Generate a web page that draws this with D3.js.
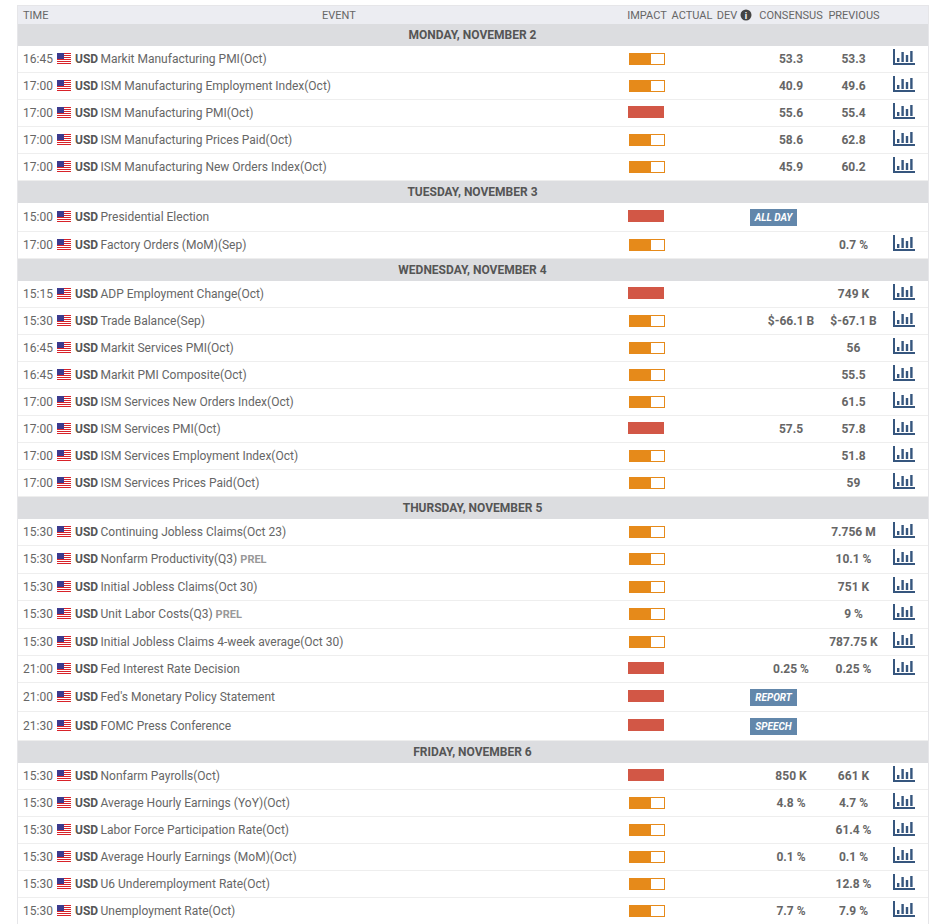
<!DOCTYPE html>
<html>
<head>
<meta charset="utf-8">
<script src="https://cdn.jsdelivr.net/npm/d3@7"></script>
<style>
html, body { margin: 0; padding: 0; background: #fff; overflow: hidden; }
svg { display: block; font-family: Roboto, sans-serif; }
</style>
</head>
<body>
<script>
const days = ["MONDAY, NOVEMBER 2", "TUESDAY, NOVEMBER 3", "WEDNESDAY, NOVEMBER 4", "THURSDAY, NOVEMBER 5", "FRIDAY, NOVEMBER 6"];
const rowDay = [0,0,0,0,0, 1,1, 2,2,2,2,2,2,2,2, 3,3,3,3,3,3,3,3, 4,4,4,4,4,4];
const times = ["16:45","17:00","17:00","17:00","17:00", "15:00","17:00", "15:15","15:30","16:45","16:45","17:00","17:00","17:00","17:00", "15:30","15:30","15:30","15:30","15:30","21:00","21:00","21:30", "15:30","15:30","15:30","15:30","15:30","15:30"];
const events = [
  "Markit Manufacturing PMI(Oct)", "ISM Manufacturing Employment Index(Oct)", "ISM Manufacturing PMI(Oct)", "ISM Manufacturing Prices Paid(Oct)", "ISM Manufacturing New Orders Index(Oct)",
  "Presidential Election", "Factory Orders (MoM)(Sep)",
  "ADP Employment Change(Oct)", "Trade Balance(Sep)", "Markit Services PMI(Oct)", "Markit PMI Composite(Oct)", "ISM Services New Orders Index(Oct)", "ISM Services PMI(Oct)", "ISM Services Employment Index(Oct)", "ISM Services Prices Paid(Oct)",
  "Continuing Jobless Claims(Oct 23)", "Nonfarm Productivity(Q3)", "Initial Jobless Claims(Oct 30)", "Unit Labor Costs(Q3)", "Initial Jobless Claims 4-week average(Oct 30)", "Fed Interest Rate Decision", "Fed's Monetary Policy Statement", "FOMC Press Conference",
  "Nonfarm Payrolls(Oct)", "Average Hourly Earnings (YoY)(Oct)", "Labor Force Participation Rate(Oct)", "Average Hourly Earnings (MoM)(Oct)", "U6 Underemployment Rate(Oct)", "Unemployment Rate(Oct)"
];
const tags = ["","","","","", "","", "","","","","","","","", "","PREL","","PREL","","","","", "","","","","",""];
const impact = [1,1,2,1,1, 2,1, 2,1,1,1,1,2,1,1, 1,1,1,1,1,2,2,2, 2,1,1,1,1,1];
const consensus = ["53.3","40.9","55.6","58.6","45.9", "","", "","$-66.1 B","","","","57.5","","", "","","","","","0.25 %","","", "850 K","4.8 %","","0.1 %","","7.7 %"];
const previous = ["53.3","49.6","55.4","62.8","60.2", "","0.7 %", "749 K","$-67.1 B","56","55.5","61.5","57.8","51.8","59", "7.756 M","10.1 %","751 K","9 %","787.75 K","0.25 %","","", "661 K","4.7 %","61.4 %","0.1 %","12.8 %","7.9 %"];
const badges = ["","","","","", "ALL DAY","", "","","","","","","","", "","","","","","","REPORT","SPEECH", "","","","","",""];
const headers = ["TIME", "EVENT", "IMPACT", "ACTUAL", "DEV", "CONSENSUS", "PREVIOUS"];
const iconBars = [4, 10, 7, 11];

const width = 935;
const height = 924;

const svg = d3.select("body").append("svg")
  .attr("width", width)
  .attr("height", height);

// work out the rows top to bottom, heights depend on what is in the row
let layout = [];
let cursor = 24;
let lastDay = -1;
rowDay.forEach((d, i) => {
  if (d !== lastDay) {
    layout.push({ type: "day", label: days[d], y: cursor, h: 22 });
    cursor += 22;
    lastDay = d;
  }
  let h = 27;
  if (tags[i] === "PREL") h = 28;
  if (badges[i] !== "") h = 29;
  layout.push({ type: "row", i: i, y: cursor, h: h, off: Math.floor((h - 1) / 2) });
  cursor += h;
});

// table frame
svg.append("rect").attr("x", 17.5).attr("y", 5.5).attr("width", 911).attr("height", height)
  .attr("fill", "#fff").attr("stroke", "#e6e6e9");
svg.append("rect").attr("x", 18).attr("y", 6).attr("width", 910).attr("height", 18).attr("fill", "#ecedf2");

const headX = [23, 339, 647, 692, 727, 791, 854];
const headAnchor = ["start", "middle", "middle", "middle", "middle", "middle", "middle"];
svg.selectAll(".head").data(headers).enter().append("text")
  .attr("class", "head")
  .attr("x", (d, i) => headX[i])
  .attr("y", 19)
  .attr("text-anchor", (d, i) => headAnchor[i])
  .attr("font-size", 11)
  .attr("fill", "#666")
  .text(d => d);

// the little info dot after DEV
svg.append("circle").attr("cx", 746).attr("cy", 15).attr("r", 5.5).attr("fill", "#444");
svg.append("text").attr("x", 746).attr("y", 18.5).attr("text-anchor", "middle")
  .attr("font-size", 9).attr("font-weight", 700).attr("fill", "#fff").text("i");

const dayRows = svg.selectAll(".day").data(layout.filter(d => d.type === "day")).enter()
  .append("g").attr("class", "day").attr("transform", d => `translate(0,${d.y})`);
dayRows.append("rect").attr("x", 18).attr("width", 910).attr("height", d => d.h).attr("fill", "#dcdde0");
dayRows.append("text").attr("x", 472.5).attr("y", 15).attr("text-anchor", "middle")
  .attr("font-size", 12).attr("font-weight", 700).attr("fill", "#555").text(d => d.label);

const impactX = d3.scaleLinear().domain([0, 2]).range([0, 36]);

const rows = svg.selectAll(".row").data(layout.filter(d => d.type === "row")).enter()
  .append("g").attr("class", "row").attr("transform", d => `translate(0,${d.y})`);

rows.append("line").attr("x1", 18).attr("x2", 928)
  .attr("y1", d => d.h - 0.5).attr("y2", d => d.h - 0.5)
  .attr("stroke", "#eeeeee");

const baseY = d => d.off + 4;

rows.append("text").attr("x", 23).attr("y", baseY)
  .attr("font-size", 12).attr("fill", "#666").text(d => times[d.i]);

// flag
const flags = rows.append("g").attr("transform", d => `translate(57,${d.off - 6})`);
flags.append("rect").attr("width", 14).attr("height", 11).attr("fill", "#fff");
flags.selectAll(".stripe").data([0, 2, 4, 6, 8, 10]).enter().append("rect")
  .attr("y", d => d).attr("width", 14).attr("height", 1).attr("fill", "#d8232a");
flags.append("rect").attr("width", 7).attr("height", 6).attr("fill", "#3c3b8e");

rows.append("text").attr("x", 75).attr("y", baseY)
  .attr("font-size", 12).attr("font-weight", 700).attr("fill", "#555").text("USD");

const eventText = rows.append("text").attr("x", 100.5).attr("y", baseY)
  .attr("font-size", 12).attr("fill", "#666");
eventText.append("tspan").text(d => events[d.i]);
eventText.append("tspan").attr("dx", 3).attr("font-size", 11).attr("font-weight", 700).attr("fill", "#999")
  .text(d => tags[d.i]);

// impact bars
const high = rows.filter(d => impact[d.i] === 2);
high.append("rect").attr("x", 628).attr("y", d => d.off - 7).attr("width", impactX(2)).attr("height", 12).attr("fill", "#d25746");
const med = rows.filter(d => impact[d.i] === 1);
med.append("rect").attr("x", 629.5).attr("y", d => d.off - 5.5).attr("width", impactX(2) - 1).attr("height", 11)
  .attr("fill", "#fff").attr("stroke", "#e68a1a");
med.append("rect").attr("x", 629).attr("y", d => d.off - 6).attr("width", impactX(1) + 4).attr("height", 12).attr("fill", "#e68a1a");

rows.append("text").attr("x", 791).attr("y", baseY).attr("text-anchor", "middle")
  .attr("font-size", 12).attr("font-weight", 700).attr("fill", "#666").text(d => consensus[d.i]);
rows.append("text").attr("x", 853.5).attr("y", baseY).attr("text-anchor", "middle")
  .attr("font-size", 12).attr("font-weight", 700).attr("fill", "#666").text(d => previous[d.i]);

// badges for rows without numbers
const badged = rows.filter(d => badges[d.i] !== "");
badged.append("rect").attr("x", 750).attr("y", d => d.off - 8).attr("width", 47).attr("height", 17).attr("fill", "#6287ab");
badged.append("text").attr("x", 773.5).attr("y", d => d.off + 4).attr("text-anchor", "middle")
  .attr("font-size", 10).attr("font-weight", 700).attr("font-style", "italic").attr("fill", "#fff")
  .text(d => badges[d.i]);

// small chart icon at the end of the row
const iconY = d3.scaleLinear().domain([0, 11]).range([0, 11]);
const icons = rows.filter(d => badges[d.i] === "").append("g")
  .attr("transform", d => `translate(893,${d.off - 10})`);
icons.append("path").attr("d", "M1 0V15H22").attr("fill", "none").attr("stroke", "#36567e").attr("stroke-width", 2);
icons.selectAll(".ib").data(iconBars).enter().append("rect")
  .attr("x", (d, i) => 4 + i * 4.4)
  .attr("y", d => 13 - iconY(d))
  .attr("width", 2.4)
  .attr("height", d => iconY(d))
  .attr("fill", "#36567e");
</script>
</body>
</html>
